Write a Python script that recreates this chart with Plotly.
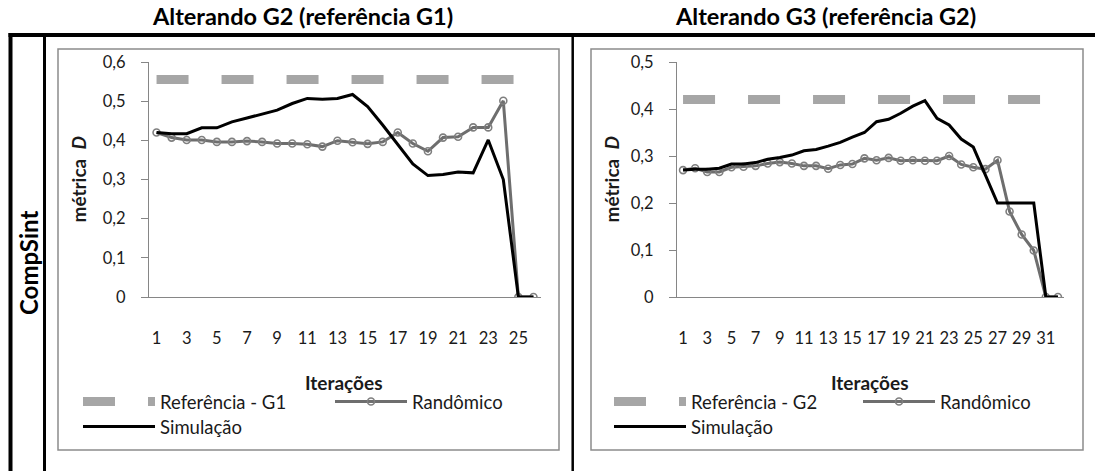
import plotly.graph_objects as go

W, H = 1095, 471

# ---- data -------------------------------------------------------------
iter_g2 = list(range(1, 27))
ref_g1 = [0.555] * 26
rand_g2 = [0.420, 0.407, 0.401, 0.401, 0.396, 0.396, 0.398, 0.396, 0.392, 0.392,
           0.390, 0.384, 0.399, 0.395, 0.391, 0.396, 0.420, 0.392, 0.372, 0.407,
           0.409, 0.433, 0.433, 0.501, 0.0, 0.0]
sim_g2 = [0.420, 0.417, 0.417, 0.432, 0.432, 0.447, 0.457, 0.467, 0.477, 0.494,
          0.507, 0.505, 0.507, 0.517, 0.486, 0.439, 0.388, 0.340, 0.310, 0.313,
          0.319, 0.317, 0.401, 0.300, 0.0, 0.0]

iter_g3 = list(range(1, 33))
ref_g2 = [0.42] * 32
rand_g3 = [0.270, 0.274, 0.266, 0.266, 0.276, 0.277, 0.279, 0.284, 0.287, 0.284,
           0.279, 0.279, 0.273, 0.281, 0.283, 0.295, 0.291, 0.296, 0.290, 0.291,
           0.290, 0.290, 0.300, 0.282, 0.276, 0.272, 0.291, 0.182, 0.133, 0.099,
           0.0, 0.0]
sim_g3 = [0.270, 0.272, 0.272, 0.274, 0.283, 0.283, 0.286, 0.293, 0.297, 0.302,
          0.311, 0.314, 0.321, 0.329, 0.340, 0.350, 0.373, 0.378, 0.391, 0.406,
          0.418, 0.380, 0.366, 0.336, 0.319, 0.260, 0.200, 0.200, 0.200, 0.200,
          0.0, 0.0]

col_titles = ["Alterando G2 (referência G1)", "Alterando G3 (referência G2)"]
row_title = "CompSint"
ref_names = ["Referência - G1", "Referência - G2"]
rand_name = "Randômico"
sim_name = "Simulação"
y_title = "métrica  <i>D</i>"
x_title = "Iterações"

# ---- styling ----------------------------------------------------------
FONT = "Lato, 'Open Sans', sans-serif"
REF_COLOR = "#a6a6a6"
RAND_COLOR = "#6e6e6e"
RAND_MARKER = "#7f7f7f"
SIM_COLOR = "#000000"
AXIS_COLOR = "#868686"
TEXT_COLOR = "#1a1a1a"


def px(x):
    return x / W


def py(y):
    return 1 - y / H


fig = go.Figure()


def add_panel(xs, ref, rand, sim, ref_name, xa, ya, legs):
    fig.add_trace(go.Scatter(
        x=xs, y=ref, name=ref_name, mode="lines", xaxis=xa, yaxis=ya,
        line=dict(color=REF_COLOR, width=9, dash="32px,33px"),
        legend=legs[0], showlegend=True, hoverinfo="skip"))
    fig.add_trace(go.Scatter(
        x=xs, y=rand, name=rand_name, mode="lines+markers", xaxis=xa, yaxis=ya,
        line=dict(color=RAND_COLOR, width=3),
        marker=dict(symbol="circle-open", size=7, color=RAND_MARKER,
                    line=dict(width=1.6, color=RAND_MARKER)),
        legend=legs[1], showlegend=True, hoverinfo="skip"))
    fig.add_trace(go.Scatter(
        x=xs, y=sim, name=sim_name, mode="lines", xaxis=xa, yaxis=ya,
        line=dict(color=SIM_COLOR, width=3),
        legend=legs[2], showlegend=True, hoverinfo="skip"))


add_panel(iter_g2, ref_g1, rand_g2, sim_g2, ref_names[0], "x", "y",
          ["legend", "legend2", "legend3"])
add_panel(iter_g3, ref_g2, rand_g3, sim_g3, ref_names[1], "x2", "y2",
          ["legend4", "legend5", "legend6"])

plot_top, plot_bottom = 62, 297
ydom = [py(plot_bottom), py(plot_top)]

common_x = dict(showline=True, linecolor=AXIS_COLOR, linewidth=1, showgrid=False,
                zeroline=False, ticks="", tickfont=dict(size=16.5, color=TEXT_COLOR),
                ticklabelstandoff=26, tickmode="array", automargin=False)
common_y = dict(showline=True, linecolor=AXIS_COLOR, linewidth=1, showgrid=False,
                zeroline=False, ticks="outside", ticklen=7, tickcolor=AXIS_COLOR,
                tickfont=dict(size=16.5, color=TEXT_COLOR), dtick=0.1,
                ticklabelstandoff=12, automargin=False)

fig.update_layout(
    xaxis=dict(domain=[px(149), px(541)], range=[0.5, 26.5], anchor="y",
               tickvals=iter_g2[::2], **common_x),
    yaxis=dict(domain=ydom, range=[0, 0.6], anchor="x", **common_y),
    xaxis2=dict(domain=[px(677), px(1064)], range=[0.5, 32.5], anchor="y2",
                tickvals=iter_g3[::2], **common_x),
    yaxis2=dict(domain=ydom, range=[0, 0.5], anchor="x2", **common_y),
)

leg_common = dict(orientation="h", bgcolor="rgba(0,0,0,0)", borderwidth=0,
                  font=dict(family=FONT, size=18.5, color=TEXT_COLOR),
                  itemwidth=72, yanchor="middle", xanchor="left",
                  itemclick=False, itemdoubleclick=False, visible=True)
row1, row2 = 402, 427
fig.update_layout(
    showlegend=True,
    legend=dict(x=px(78), y=py(row1), **leg_common),
    legend2=dict(x=px(330), y=py(row1), **leg_common),
    legend3=dict(x=px(78), y=py(row2), **leg_common),
    legend4=dict(x=px(609), y=py(row1), **leg_common),
    legend5=dict(x=px(858), y=py(row1), **leg_common),
    legend6=dict(x=px(609), y=py(row2), **leg_common),
)

# ---- frames and separators --------------------------------------------
shapes = []
for x0, x1 in [(58, 559), (591, 1083)]:
    shapes.append(dict(type="rect", xref="paper", yref="paper",
                       x0=px(x0), x1=px(x1), y0=py(450), y1=py(49),
                       line=dict(color="#8c8c8c", width=1.5)))
shapes.append(dict(type="line", xref="paper", yref="paper", x0=px(8.5), x1=px(1095),
                   y0=py(35), y1=py(35), line=dict(color="black", width=4)))
shapes.append(dict(type="line", xref="paper", yref="paper", x0=px(10.5), x1=px(10.5),
                   y0=py(33), y1=py(471), line=dict(color="black", width=4)))
shapes.append(dict(type="line", xref="paper", yref="paper", x0=px(44.5), x1=px(44.5),
                   y0=py(35), y1=py(471), line=dict(color="black", width=3)))
shapes.append(dict(type="line", xref="paper", yref="paper", x0=px(572.7), x1=px(572.7),
                   y0=py(35), y1=py(471), line=dict(color="black", width=2.5)))

# ---- text -------------------------------------------------------------
def label(x, y, text, size, angle=0, color=TEXT_COLOR):
    return dict(x=px(x), y=py(y), xref="paper", yref="paper", text=text,
                xanchor="center", yanchor="middle", textangle=angle,
                showarrow=False, font=dict(family=FONT, size=size, color=color))


ann = [
    label(303, 16, f"<b>{col_titles[0]}</b>", 23.5, color="black"),
    label(825, 16, f"<b>{col_titles[1]}</b>", 23.5, color="black"),
    label(28, 263, f"<b>{row_title}</b>", 24, angle=-90, color="black"),
    label(78, 179.5, f"<b>{y_title}</b>", 19, angle=-90),
    label(611, 179.5, f"<b>{y_title}</b>", 19, angle=-90),
    label(344, 382, f"<b>{x_title}</b>", 19),
    label(870, 382, f"<b>{x_title}</b>", 19),
]

fig.update_layout(
    width=W, height=H, autosize=False, margin=dict(l=0, r=0, t=0, b=0, autoexpand=False),
    paper_bgcolor="white", plot_bgcolor="white",
    font=dict(family=FONT, size=16, color=TEXT_COLOR),
    separators=",.", shapes=shapes, annotations=ann,
)

fig.write_html("out.html")
